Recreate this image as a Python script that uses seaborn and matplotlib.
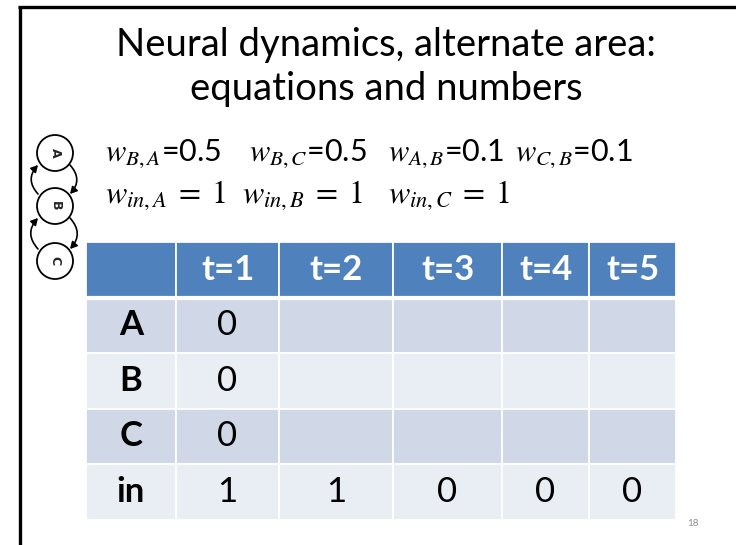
import matplotlib
matplotlib.use("Agg")
import matplotlib.pyplot as plt
import seaborn as sns
import numpy as np
from matplotlib.patches import Circle, FancyArrowPatch

# slide content
title_lines = ["Neural dynamics, alternate area:", "equations and numbers"]
weights_line1 = [r"$w_{B,A}$=0.5", r"$w_{B,C}$=0.5", r"$w_{A,B}$=0.1", r"$w_{C,B}$=0.1"]
weights_line2 = [r"$w_{in,A}\;=\;1$", r"$w_{in,B}\;=\;1$", r"$w_{in,C}\;=\;1$"]

nodes = ["A", "B", "C"]
edges = [("A", "B"), ("B", "A"), ("B", "C"), ("C", "B")]

col_labels = ["t=1", "t=2", "t=3", "t=4", "t=5"]
row_labels = ["A", "B", "C", "in"]
cell_values = [
    ["0", "", "", "", ""],
    ["0", "", "", "", ""],
    ["0", "", "", "", ""],
    ["1", "1", "0", "0", "0"],
]
page_number = "18"

sns.set_theme(style="white")
plt.rcParams["font.family"] = ["Lato", "DejaVu Sans"]
plt.rcParams["mathtext.fontset"] = "stix"

W, H = 736, 545
fig = plt.figure(figsize=(W / 100, H / 100), dpi=100)
fig.patch.set_facecolor("white")

# overlay axes in pixel units
bg = fig.add_axes([0, 0, 1, 1])
bg.set_xlim(0, W)
bg.set_ylim(H, 0)
bg.axis("off")

# slide border (top and left)
bg.plot([18, W], [7, 7], color="black", lw=2.4, solid_capstyle="butt")
bg.plot([19.5, 19.5], [6, H], color="black", lw=2.4, solid_capstyle="butt")

# title
bg.text(386, 45, title_lines[0], ha="center", va="center", fontsize=27.5, color="black")
bg.text(386, 89, title_lines[1], ha="center", va="center", fontsize=27.5, color="black")

# weights, one group per term
for x, s in zip([105, 249, 388, 515], weights_line1):
    bg.text(x, 161, s, ha="left", va="baseline", fontsize=22, color="black")
for x, s in zip([105, 242, 388], weights_line2):
    bg.text(x, 203, s, ha="left", va="baseline", fontsize=23, color="black")

# small network diagram
node_y = dict(zip(nodes, [153, 206, 261]))
node_x = 55
r = 18
for n in nodes:
    bg.add_patch(Circle((node_x, node_y[n]), r, facecolor="white", edgecolor="black", lw=1.3, zorder=3))
    bg.text(node_x, node_y[n], n, rotation=-90, ha="center", va="center",
            fontsize=9, fontweight="bold", family="DejaVu Sans", zorder=4)
for a, b in edges:
    down = node_y[b] > node_y[a]
    dx = 15 if down else -17
    dy = 12
    start = (node_x + dx, node_y[a] + (dy if down else -dy))
    end = (node_x + dx, node_y[b] - (dy if down else -dy))
    bg.add_patch(FancyArrowPatch(start, end, connectionstyle="arc3,rad=-0.45",
                                 arrowstyle="-|>,head_length=4,head_width=2.2",
                                 color="black", lw=1.2, zorder=2, shrinkA=0, shrinkB=0))

# table
col_widths = [90, 103, 114, 109, 87, 87]
row_heights = [56, 55, 56, 55, 56]
left, top = 86, 242
tw, th = sum(col_widths), sum(row_heights)
tab = fig.add_axes([left / W, (H - top - th) / H, tw / W, th / H])
tab.set_xlim(0, tw)
tab.set_ylim(th, 0)
tab.axis("off")

x_edges = np.concatenate([[0], np.cumsum(col_widths)])
y_edges = np.concatenate([[0], np.cumsum(row_heights)])
row_colors = ["#4F81BD", "#D0D8E8", "#E9EDF4", "#D0D8E8", "#E9EDF4"]

for i, c in enumerate(row_colors):
    tab.bar(x_edges[:-1], row_heights[i], width=col_widths, bottom=y_edges[i],
            align="edge", color=c, edgecolor="white", linewidth=1.3)
tab.axhline(y_edges[1], color="white", lw=3)

xc = (x_edges[:-1] + x_edges[1:]) / 2
yc = (y_edges[:-1] + y_edges[1:]) / 2
fs = 25
for j, lab in enumerate(col_labels):
    tab.text(xc[j + 1], yc[0], lab, ha="center", va="center", color="white",
             fontsize=fs, fontweight="bold")
for i, lab in enumerate(row_labels):
    tab.text(xc[0], yc[i + 1], lab, ha="center", va="center", color="black",
             fontsize=fs, fontweight="bold")
    for j, v in enumerate(cell_values[i]):
        tab.text(xc[j + 1], yc[i + 1], v, ha="center", va="center", color="black",
                 fontsize=fs)

# page number
bg.text(693, 523, page_number, ha="center", va="center", fontsize=7, color="#8C8C8C")

fig.savefig("out.png", dpi=100, facecolor="white")
